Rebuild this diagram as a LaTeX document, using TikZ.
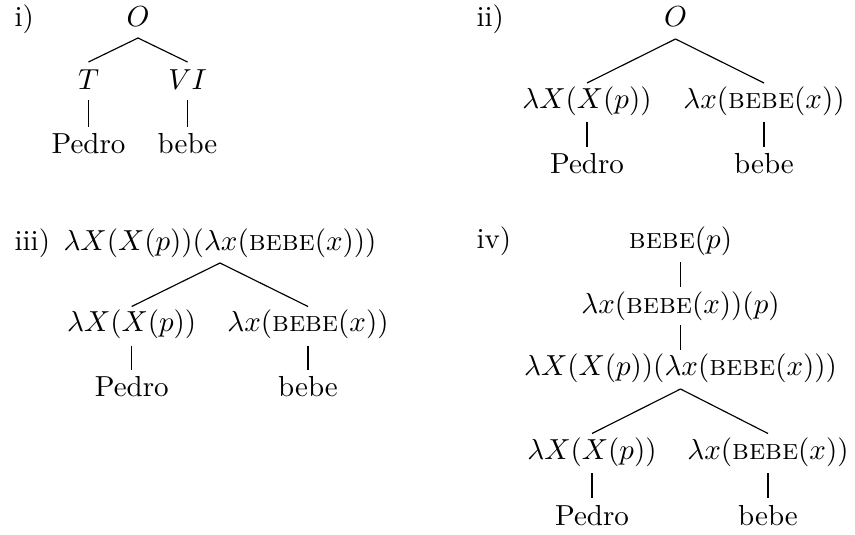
\documentclass[tikz,border=0pt]{standalone}
\usetikzlibrary{calc}
\begin{document}
\begin{tikzpicture}[x=0.345pt,y=-0.345pt,
  lbl/.style={anchor=base west,inner sep=0pt},
  nd/.style={anchor=base,inner sep=0pt},
  branch/.style={line width=0.4pt}]
\useasboundingbox (0,0) rectangle (855,534);
% ---------- i) ----------
\node[lbl] (li) at (14,26.5) {i)};
\node[nd] (iO) at (138,26.5) {$O$};
\node[nd] (iT) at (88.5,89.5) {$T$};
\node[nd] (iVI) at (187.5,89.5) {$VI$};
\node[nd] (iP) at (88.5,153.3) {Pedro};
\node[nd] (iB) at (187.5,153.3) {bebe};
\draw[branch] ($(iO.base)+(0,11.5)$) -- ($(iT.base)+(0,-27.5)$);
\draw[branch] ($(iO.base)+(0,11.5)$) -- ($(iVI.base)+(0,-27.5)$);
\draw[branch] ($(iT.base)+(0,11)$) -- ($(iP.base)+(0,-26.6)$);
\draw[branch] ($(iVI.base)+(0,11)$) -- ($(iB.base)+(0,-26.6)$);
% ---------- ii) ----------
\node[lbl] (lii) at (476,26.5) {ii)};
\node[nd] (iiO) at (675.5,26.5) {$O$};
\node[nd] (iiL) at (587,108.5) {$\lambda X(X(p))$};
\node[nd] (iiR) at (764,108.5) {$\lambda x(\textsc{bebe}(x))$};
\node[nd] (iiP) at (587,173.3) {Pedro};
\node[nd] (iiB) at (764,173.3) {bebe};
\draw[branch] ($(iiO.base)+(0,12.5)$) -- ($(iiL.base)+(0,-25.5)$);
\draw[branch] ($(iiO.base)+(0,12.5)$) -- ($(iiR.base)+(0,-25.5)$);
\draw[branch] ($(iiL.base)+(0,14)$) -- ($(iiP.base)+(0,-26.6)$);
\draw[branch] ($(iiR.base)+(0,14)$) -- ($(iiB.base)+(0,-26.6)$);
% ---------- iii) ----------
\node[lbl] (liii) at (14,250) {iii)};
\node[nd] (iiiT) at (220,250) {$\lambda X(X(p))(\lambda x(\textsc{bebe}(x)))$};
\node[nd] (iiiL) at (131.7,331.5) {$\lambda X(X(p))$};
\node[nd] (iiiR) at (308,331.5) {$\lambda x(\textsc{bebe}(x))$};
\node[nd] (iiiP) at (131.7,396.5) {Pedro};
\node[nd] (iiiB) at (308,396.5) {bebe};
\draw[branch] ($(iiiT.base)+(0,13)$) -- ($(iiiL.base)+(0,-25)$);
\draw[branch] ($(iiiT.base)+(0,13)$) -- ($(iiiR.base)+(0,-25)$);
\draw[branch] ($(iiiL.base)+(0,14)$) -- ($(iiiP.base)+(0,-26.6)$);
\draw[branch] ($(iiiR.base)+(0,14)$) -- ($(iiiB.base)+(0,-26.6)$);
% ---------- iv) ----------
\node[lbl] (liv) at (476,248) {iv)};
\node[nd] (ivA) at (680.5,248) {$\textsc{bebe}(p)$};
\node[nd] (ivM) at (680.5,313) {$\lambda x(\textsc{bebe}(x))(p)$};
\node[nd] (ivT) at (680.5,375) {$\lambda X(X(p))(\lambda x(\textsc{bebe}(x)))$};
\node[nd] (ivL) at (592,459) {$\lambda X(X(p))$};
\node[nd] (ivR) at (768,459) {$\lambda x(\textsc{bebe}(x))$};
\node[nd] (ivP) at (592,525) {Pedro};
\node[nd] (ivB) at (768,525) {bebe};
\draw[branch] ($(ivA.base)+(0,14)$) -- ($(ivM.base)+(0,-26)$);
\draw[branch] ($(ivM.base)+(0,12)$) -- ($(ivT.base)+(0,-25)$);
\draw[branch] ($(ivT.base)+(0,14)$) -- ($(ivL.base)+(0,-25.5)$);
\draw[branch] ($(ivT.base)+(0,14)$) -- ($(ivR.base)+(0,-25.5)$);
\draw[branch] ($(ivL.base)+(0,14)$) -- ($(ivP.base)+(0,-26.6)$);
\draw[branch] ($(ivR.base)+(0,14)$) -- ($(ivB.base)+(0,-26.6)$);
\end{tikzpicture}
\end{document}
